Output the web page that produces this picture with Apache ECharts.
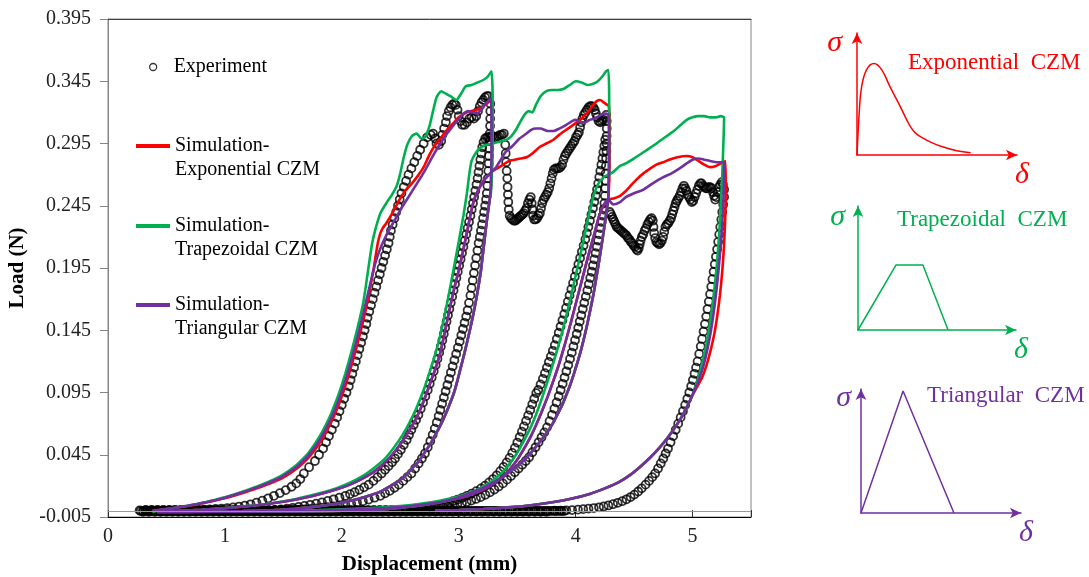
<!DOCTYPE html>
<html><head><meta charset="utf-8">
<script src="https://cdn.jsdelivr.net/npm/echarts@6/dist/echarts.min.js"></script>
<style>html,body{margin:0;padding:0;background:#fff}#c{width:1089px;height:577px}</style>
</head><body><div id="c"></div>
<script>
// ---------- Experiment (open circles) ----------
const expLoad1 = [[0.27,.0003],[0.32,.0003],[0.37,.0003],[0.42,.0003],[0.47,.0004],[0.52,.0004],[0.57,.0005],[0.62,.0005],[0.67,.0006],[0.72,.0007],[0.77,.0008],[0.82,.0010],[0.87,.0012],[0.92,.0015],[0.97,.0018],[1.02,.0022],[1.07,.0027],[1.12,.0034],[1.17,.0042],[1.22,.0052],[1.27,.0065],[1.32,.0081],[1.37,.0100],[1.42,.0120],[1.47,.0142],[1.52,.0166],[1.57,.0193],[1.61,.0220],[1.645,.0255],
[1.675,.030],[1.72,.035],[1.77,.040],[1.805,.045],[1.84,.050],[1.865,.055],[1.89,.060],[1.915,.065],[1.94,.070],[1.96,.075],[1.98,.080],[2.00,.085],[2.02,.090],[2.04,.095],[2.06,.100],[2.075,.105],[2.09,.110],[2.105,.115],[2.12,.120],[2.135,.125],[2.15,.130],[2.165,.135],[2.18,.140],[2.195,.145],[2.21,.150],[2.22,.155],[2.235,.160],[2.25,.165],[2.265,.170],[2.28,.175],[2.295,.180],[2.31,.185],[2.325,.190],[2.34,.195],[2.355,.200],[2.37,.205],[2.385,.210],[2.40,.215],[2.41,.220],[2.42,.225],[2.435,.230],[2.45,.235],[2.465,.240],[2.48,.245],[2.495,.250],[2.51,.255],[2.53,.260],[2.55,.265],[2.57,.270],[2.595,.275],[2.62,.280],[2.645,.285],[2.67,.290],[2.70,.295],[2.73,.300],
[2.76,.302],[2.78,.303],[2.80,.299],[2.81,.295],[2.83,.294],[2.85,.297],[2.86,.302],[2.875,.307],[2.89,.312],[2.90,.317],[2.915,.321],[2.93,.324],[2.945,.326],[2.96,.327],[2.975,.326],[2.99,.322],[3.00,.317],[3.015,.313],[3.03,.310],[3.05,.310],[3.07,.312],[3.09,.315],[3.11,.316],[3.13,.315],[3.15,.317],[3.165,.321],[3.18,.325],[3.195,.328],[3.21,.330],[3.225,.332],[3.24,.333],[3.255,.333]];
const expUnload1 = [[3.27,.327],[3.27,.321],[3.269,.315],[3.268,.309],[3.266,.303],[3.264,.297],[3.262,.291],[3.259,.285],[3.256,.279],[3.253,.273],[3.249,.267],[3.245,.261],[3.24,.255],[3.234,.250],[3.226,.245],[3.217,.240],[3.208,.235],[3.199,.230],[3.19,.225],[3.18,.220],[3.17,.215],[3.16,.209],[3.15,.203],[3.14,.197],[3.13,.191],[3.12,.185],[3.11,.179],[3.10,.173],[3.088,.167],[3.076,.161],[3.064,.156],[3.05,.151],[3.036,.146],[3.022,.141],[3.008,.136],[2.993,.131],[2.978,.126],[2.963,.121],[2.948,.116],[2.933,.111],[2.918,.106],[2.903,.101],[2.888,.096],[2.873,.091],[2.858,.086],[2.843,.081],[2.828,.076],[2.812,.071],[2.795,.066],[2.777,.061],[2.757,.056],[2.735,.051],[2.711,.046],[2.685,.042],[2.657,.038],[2.627,.034],[2.595,.030],[2.56,.027],[2.525,.024],[2.488,.021],[2.45,.0185],[2.41,.016],[2.37,.014],[2.33,.012],[2.28,.0105],[2.23,.009],[2.18,.0077],[2.13,.0066],[2.08,.0057],[2.03,.0049],[1.98,.0042],[1.93,.0036],[1.88,.0030],[1.83,.0025],[1.78,.0020],[1.73,.0016],[1.68,.0012],[1.63,.0009],[1.58,.0006],[1.53,.0004],[1.48,.0002],[1.43,.0001],[1.38,0]];
const expReload1 = [[1.43,.0006],[1.48,.0011],[1.53,.0017],[1.58,.0024],[1.63,.0031],[1.68,.0039],[1.73,.0048],[1.78,.0057],[1.83,.0067],[1.88,.0079],[1.93,.0092],[1.98,.0106],[2.03,.0120],[2.07,.0134],[2.11,.0150],[2.15,.0168],[2.19,.0188],[2.23,.0210],[2.27,.0240],[2.305,.0270],[2.34,.0300],[2.37,.0330],[2.40,.0360],[2.43,.0390],[2.455,.0420],[2.48,.0455],[2.505,.049],[2.53,.053],[2.555,.057],[2.575,.061],[2.595,.065],[2.615,.069],[2.635,.073],[2.655,.077],[2.675,.082],[2.695,.087],[2.715,.092],[2.735,.097],[2.752,.102],[2.769,.107],[2.786,.112],[2.803,.117],[2.818,.122],[2.833,.127],[2.847,.132],[2.86,.137],[2.872,.142],[2.884,.147],[2.896,.152],[2.908,.157],[2.92,.162],[2.932,.167],[2.944,.172],[2.956,.177],[2.968,.182],[2.98,.187],[2.992,.192],[3.004,.197],[3.016,.202],[3.028,.207],[3.04,.212],[3.052,.217],[3.064,.222],[3.076,.227],[3.088,.232],[3.1,.237],[3.111,.242],[3.122,.247],[3.132,.252],[3.142,.257],[3.152,.262],[3.161,.267],[3.169,.272],[3.177,.277],[3.185,.282],[3.193,.287],[3.201,.292],[3.212,.296],[3.226,.299],[3.242,.300],[3.258,.300],[3.274,.301],[3.29,.301],[3.306,.300],[3.322,.300],[3.338,.301],[3.354,.302],[3.37,.302],[3.386,.303]];
const expPlateau2 = [[3.398,.294],[3.402,.287],[3.406,.280],[3.41,.273],[3.415,.267],[3.418,.260],[3.421,.254],[3.424,.248],[3.428,.242],[3.436,.237],[3.448,.235],[3.46,.234],[3.472,.233],[3.484,.233],[3.496,.234],[3.508,.235],[3.52,.236],[3.532,.237],[3.544,.238],[3.556,.239],[3.568,.241],[3.58,.243],[3.592,.247],[3.604,.250],[3.616,.252],[3.624,.247],[3.63,.242],[3.636,.237],[3.646,.234],[3.658,.234],[3.67,.235],[3.682,.237],[3.694,.239],[3.704,.243],[3.714,.247],[3.726,.250],[3.738,.252],[3.75,.254],[3.762,.256],[3.774,.259],[3.784,.263],[3.794,.267],[3.804,.271],[3.814,.274],[3.828,.275],[3.842,.275],[3.856,.275],[3.87,.276],[3.884,.278],[3.896,.282],[3.908,.285],[3.92,.287],[3.934,.289],[3.948,.291],[3.962,.293],[3.976,.295],[3.99,.297],[4.003,.300],[4.016,.302],[4.028,.304],[4.038,.308],[4.048,.312],[4.058,.315],[4.07,.318],[4.083,.320],[4.096,.322],[4.11,.324],[4.124,.325],[4.138,.325],[4.152,.324],[4.164,.322],[4.174,.319],[4.184,.316],[4.196,.313],[4.21,.312],[4.224,.313],[4.238,.314],[4.25,.316],[4.262,.318]];
const expUnload2 = [[4.266,.313],[4.266,.307],[4.265,.301],[4.264,.295],[4.263,.289],[4.261,.283],[4.259,.277],[4.257,.271],[4.255,.265],[4.253,.259],[4.25,.253],[4.246,.247],[4.24,.242],[4.232,.237],[4.222,.232],[4.212,.227],[4.202,.222],[4.192,.217],[4.181,.212],[4.17,.207],[4.159,.202],[4.148,.197],[4.137,.192],[4.125,.187],[4.113,.182],[4.1,.177],[4.087,.172],[4.074,.167],[4.061,.162],[4.048,.157],[4.035,.152],[4.022,.147],[4.009,.142],[3.995,.137],[3.981,.132],[3.967,.127],[3.952,.122],[3.937,.117],[3.921,.112],[3.905,.107],[3.889,.102],[3.872,.097],[3.855,.092],[3.837,.087],[3.818,.082],[3.798,.077],[3.777,.072],[3.755,.067],[3.732,.063],[3.708,.059],[3.683,.055],[3.657,.051],[3.63,.047],[3.602,.043],[3.573,.040],[3.543,.037],[3.512,.034],[3.48,.031],[3.447,.028],[3.413,.025],[3.378,.022],[3.342,.0195],[3.305,.017],[3.267,.0148],[3.228,.0128],[3.188,.011],[3.148,.0095],[3.108,.0082],[3.068,.007],[3.028,.006],[2.988,.0051],[2.948,.0043],[2.908,.0036],[2.868,.003],[2.828,.0025],[2.788,.002],[2.748,.0016],[2.708,.0012],[2.668,.0009],[2.628,.0006],[2.588,.0004],[2.548,.0002]];
const expReload2 = [[2.55,.0008],[2.59,.0012],[2.63,.0017],[2.67,.0022],[2.71,.0028],[2.75,.0034],[2.79,.0041],[2.83,.0048],[2.87,.0057],[2.91,.0066],[2.95,.0077],[2.99,.0090],[3.03,.0104],[3.07,.0120],[3.11,.0138],[3.15,.0158],[3.19,.0180],[3.225,.0202],[3.26,.0228],[3.293,.0255],[3.325,.0285],[3.355,.0318],[3.383,.0352],[3.41,.0388],[3.435,.0425],[3.458,.0465],[3.48,.0505],[3.501,.0548],[3.521,.0592],[3.54,.0635],[3.558,.0678],[3.576,.0722],[3.594,.0766],[3.612,.081],[3.629,.0855],[3.646,.09],[3.663,.0945],[3.68,.097],[3.70,.1015],[3.72,.106],[3.737,.1105],[3.754,.115],[3.771,.1195],[3.788,.124],[3.805,.1285],[3.822,.133],[3.839,.138],[3.855,.143],[3.871,.148],[3.887,.153],[3.903,.158],[3.918,.163],[3.933,.168],[3.948,.173],[3.963,.178],[3.978,.183],[3.993,.188],[4.008,.193],[4.023,.198],[4.038,.203],[4.053,.208],[4.068,.213],[4.083,.218],[4.096,.223],[4.109,.228],[4.122,.233],[4.135,.238],[4.148,.243],[4.16,.248],[4.172,.253],[4.183,.258],[4.193,.263],[4.202,.268],[4.211,.273],[4.22,.278],[4.229,.283],[4.237,.288],[4.245,.293],[4.253,.298]];
const expPlateau3 = [[4.292,.240],[4.302,.238],[4.312,.236],[4.322,.234],[4.332,.232],[4.342,.230],[4.352,.228],[4.364,.227],[4.376,.226],[4.388,.225],[4.40,.224],[4.412,.223],[4.424,.222],[4.436,.221],[4.448,.219],[4.46,.218],[4.472,.216],[4.484,.215],[4.496,.213],[4.508,.212],[4.52,.210],[4.53,.209],[4.54,.211],[4.548,.214],[4.556,.217],[4.566,.220],[4.578,.222],[4.59,.225],[4.602,.227],[4.614,.230],[4.626,.232],[4.638,.234],[4.65,.235],[4.66,.233],[4.666,.228],[4.672,.223],[4.68,.219],[4.69,.216],[4.702,.215],[4.714,.214],[4.726,.215],[4.738,.217],[4.748,.220],[4.758,.224],[4.768,.228],[4.78,.230],[4.792,.231],[4.804,.233],[4.816,.235],[4.826,.238],[4.836,.241],[4.846,.244],[4.856,.247],[4.866,.249],[4.878,.251],[4.89,.253],[4.902,.256],[4.914,.259],[4.926,.261],[4.938,.259],[4.948,.257],[4.958,.254],[4.97,.252],[4.982,.250],[4.994,.248],[5.006,.249],[5.018,.252],[5.03,.255],[5.042,.258],[5.054,.261],[5.066,.263],[5.078,.263],[5.09,.261],[5.102,.260],[5.114,.259],[5.126,.259],[5.138,.260],[5.15,.260],[5.162,.259],[5.174,.256],[5.184,.253],[5.194,.250],[5.204,.252],[5.214,.256],[5.226,.260],[5.238,.262],[5.25,.264],[5.26,.262],[5.27,.258]];
const expUnload3 = [[5.27,.252],[5.262,.246],[5.254,.240],[5.246,.234],[5.237,.228],[5.228,.222],[5.219,.216],[5.21,.210],[5.2,.204],[5.19,.198],[5.18,.192],[5.17,.186],[5.16,.180],[5.15,.174],[5.139,.168],[5.128,.162],[5.117,.156],[5.106,.150],[5.094,.144],[5.082,.138],[5.07,.132],[5.057,.126],[5.043,.120],[5.03,.115],[5.017,.110],[5.003,.105],[4.988,.100],[4.972,.095],[4.955,.090],[4.937,.085],[4.918,.080],[4.898,.075],[4.877,.070],[4.856,.065],[4.834,.060],[4.812,.055],[4.79,.050],[4.77,.046],[4.75,.042],[4.728,.038],[4.705,.034],[4.68,.030],[4.655,.027],[4.628,.024],[4.598,.021],[4.565,.018],[4.535,.0155],[4.502,.013],[4.47,.011],[4.435,.0092],[4.398,.0077],[4.36,.0064],[4.32,.0053],[4.28,.0043],[4.24,.0035],[4.2,.0028],[4.155,.0022],[4.11,.0017],[4.065,.0013],[4.02,.0009],[3.97,.0006],[3.92,.0004],[3.87,.0002],[3.82,.0001]];
const expBaseA = [[0.30,-.0008],[0.35,-.0008],[0.40,-.0009],[0.45,-.0008],[0.50,-.0008],[0.55,-.0009],[0.60,-.0008],[0.65,-.0008],[0.70,-.0009],[0.75,-.0008],[0.80,-.0008],[0.85,-.0009],[0.90,-.0008],[0.95,-.0008],[1.00,-.0009],[1.05,-.0008],[1.10,-.0008],[1.15,-.0009],[1.20,-.0008],[1.25,-.0008],[1.30,-.0009],[1.35,-.0008],[1.40,-.0008],[1.45,-.0009],[1.50,-.0008],[1.55,-.0008],[1.60,-.0009],[1.65,-.0008],[1.70,-.0008],[1.75,-.0009],[1.80,-.0008],[1.85,-.0008],[1.90,-.0009],[1.95,-.0008],[2.00,-.0008],[2.05,-.0009],[2.10,-.0008],[2.15,-.0008],[2.20,-.0009],[2.25,-.0008],[2.30,-.0008],[2.35,-.0009],[2.40,-.0008],[2.45,-.0008],[2.50,-.0009],[2.55,-.0008],[2.60,-.0008],[2.65,-.0009],[2.70,-.0008],[2.75,-.0008],[2.80,-.0009],[2.85,-.0008],[2.90,-.0008],[2.95,-.0009],[3.00,-.0008],[3.05,-.0008],[3.10,-.0009],[3.15,-.0008],[3.20,-.0008],[3.25,-.0009],[3.30,-.0008],[3.35,-.0008],[3.40,-.0009],[3.45,-.0008],[3.50,-.0008],[3.55,-.0009],[3.60,-.0008],[3.65,-.0008],[3.70,-.0009],[3.75,-.0008]];
const expBaseB = [[0.325,.0007],[0.375,.0007],[0.425,.0008],[0.475,.0007],[0.525,.0007],[0.575,.0008],[0.625,.0007],[0.675,.0007],[0.725,.0008],[0.775,.0007],[0.825,.0007],[0.875,.0008],[0.925,.0007],[0.975,.0007],[1.025,.0008],[1.075,.0007],[1.125,.0007],[1.175,.0008],[1.225,.0007],[1.275,.0007],[1.325,.0008],[1.375,.0007],[1.425,.0007],[1.475,.0008],[1.525,.0007],[1.575,.0007],[1.625,.0008],[1.675,.0007],[1.725,.0007],[1.775,.0008],[1.825,.0007],[1.875,.0007],[1.925,.0008],[1.975,.0007],[2.025,.0007],[2.075,.0008],[2.125,.0007],[2.175,.0007],[2.225,.0008],[2.275,.0007],[2.325,.0007],[2.375,.0008],[2.425,.0007],[2.475,.0007]];
const expBaseC = [[0.28,-.0002],[0.30,-.0002],[0.32,-.0001],[0.34,-.0002],[0.36,-.0002],[0.38,-.0001],[0.40,-.0002],[0.42,-.0002],[0.44,-.0001],[0.46,-.0002],[0.48,-.0002],[0.50,-.0001],[0.52,-.0002],[0.54,-.0002],[0.56,-.0001],[0.58,-.0002],[0.60,-.0002],[0.62,-.0001],[0.64,-.0002],[0.66,-.0002],[0.68,-.0001],[0.70,-.0002],[0.72,-.0002],[0.74,-.0001],[0.76,-.0002],[0.78,-.0002],[0.80,-.0001],[0.82,-.0002],[0.84,-.0002],[0.86,-.0001],[0.88,-.0002],[0.90,-.0002],[0.92,-.0001],[0.94,-.0002],[0.96,-.0002],[0.98,-.0001],[1.00,-.0002],[1.02,-.0002],[1.04,-.0001],[1.06,-.0002],[1.08,-.0002],[1.10,-.0001],[1.12,-.0002],[1.14,-.0002],[1.16,-.0001],[1.18,-.0002],[1.20,-.0002],[1.22,-.0001],[1.24,-.0002],[1.26,-.0002],[1.28,-.0001],[1.30,-.0002],[1.32,-.0002],[1.34,-.0001],[1.36,-.0002],[1.38,-.0002],[1.40,-.0001],[1.42,-.0002],[1.44,-.0002],[1.46,-.0001],[1.48,-.0002],[1.50,-.0002],[1.52,-.0001],[1.54,-.0002],[1.56,-.0002],[1.58,-.0001],[1.60,-.0002],[1.62,-.0002],[1.64,-.0001],[1.66,-.0002],[1.68,-.0002],[1.70,-.0001],[1.72,-.0002],[1.74,-.0002],[1.76,-.0001],[1.78,-.0002],[1.80,-.0002],[1.82,-.0001],[1.84,-.0002],[1.86,-.0002],[1.88,-.0001],[1.90,-.0002],[1.92,-.0002],[1.94,-.0001],[1.96,-.0002],[1.98,-.0002],[2.00,-.0001],[2.02,-.0002],[2.04,-.0002],[2.06,-.0001],[2.08,-.0002],[2.10,-.0002],[2.12,-.0001],[2.14,-.0002],[2.16,-.0002],[2.18,-.0001],[2.20,-.0002],[2.22,-.0002],[2.24,-.0001],[2.26,-.0002],[2.28,-.0002],[2.30,-.0001],[2.32,-.0002],[2.34,-.0002],[2.36,-.0001],[2.38,-.0002],[2.40,-.0002],[2.42,-.0001],[2.44,-.0002],[2.46,-.0002],[2.48,-.0001],[2.50,-.0002],[2.52,-.0002],[2.54,-.0001],[2.56,-.0002],[2.58,-.0002],[2.60,-.0001],[2.62,-.0002],[2.64,-.0002],[2.66,-.0001],[2.68,-.0002],[2.70,-.0002],[2.72,-.0001],[2.74,-.0002],[2.76,-.0002],[2.78,-.0001],[2.80,-.0002],[2.82,-.0002],[2.84,-.0001],[2.86,-.0002],[2.88,-.0002],[2.90,-.0001],[2.92,-.0002],[2.94,-.0002],[2.96,-.0001],[2.98,-.0002],[3.00,-.0002],[3.02,-.0001],[3.04,-.0002],[3.06,-.0002],[3.08,-.0001],[3.10,-.0002],[3.12,-.0002],[3.14,-.0001],[3.16,-.0002],[3.18,-.0002],[3.20,-.0001],[3.22,-.0002],[3.24,-.0002],[3.26,-.0001],[3.28,-.0002],[3.30,-.0002],[3.32,-.0001],[3.34,-.0002],[3.36,-.0002],[3.38,-.0001],[3.40,-.0002],[3.42,-.0002],[3.44,-.0001],[3.46,-.0002],[3.48,-.0002],[3.50,-.0001],[3.52,-.0002],[3.54,-.0002],[3.56,-.0001],[3.58,-.0002],[3.60,-.0002],[3.62,-.0001],[3.64,-.0002],[3.66,-.0002],[3.68,-.0001],[3.70,-.0002],[3.72,-.0002],[3.74,-.0001],[3.76,-.0002],[3.78,-.0002],[3.80,-.0001],[3.82,-.0002],[3.84,-.0002],[3.86,-.0001],[3.88,-.0002],[3.90,-.0002]];

// ---------- Simulations (lines) ----------
const simExpLoad1 = [[0.38,.0000],[0.45,.0007],[0.52,.0015],[0.6,.0026],[0.68,.0038],[0.76,.0051],[0.84,.0066],[0.92,.0083],[1.0,.0101],[1.07,.0119],[1.14,.0139],[1.21,.0160],[1.28,.0182],[1.35,.0206],[1.42,.0233],[1.49,.0263],[1.55,.0297],[1.61,.0335],[1.66,.0375],[1.71,.0420],[1.75,.0466],[1.79,.0517],[1.83,.0574],[1.87,.0639],[1.91,.0713],[1.94,.0776],[1.97,.0843],[2.00,.0920],[2.03,.1002],[2.06,.1093],[2.09,.1190],[2.12,.1292],[2.15,.1400],[2.18,.1515],[2.21,.1640],[2.24,.1780],[2.27,.1930],[2.29,.2050],[2.31,.2160],[2.33,.2230],[2.35,.2270],[2.38,.2310],[2.42,.2370],[2.46,.2440],[2.50,.2510],[2.55,.2580],[2.60,.2630],[2.65,.2690],[2.70,.2760],[2.75,.2860],[2.80,.2940],[2.85,.3000],[2.90,.3060],[2.95,.3110],[3.00,.3160],[3.05,.3190],[3.10,.3210],[3.15,.3220],[3.20,.3240],[3.24,.3270],[3.28,.3300],[3.285,.310],[3.285,.285],[3.28,.265],[3.272,.255]];
const simTrapLoad1 = [[0.38,-.0010],[0.45,.0006],[0.52,.0016],[0.6,.0028],[0.68,.0041],[0.76,.0055],[0.84,.0071],[0.92,.0089],[1.0,.0108],[1.07,.0128],[1.14,.0150],[1.21,.0173],[1.28,.0197],[1.35,.0223],[1.42,.0252],[1.49,.0286],[1.55,.0323],[1.61,.0365],[1.66,.0410],[1.71,.0460],[1.75,.0510],[1.79,.0567],[1.83,.0630],[1.87,.0702],[1.91,.0784],[1.94,.0853],[1.97,.0928],[2.00,.1012],[2.03,.1102],[2.06,.1200],[2.09,.1305],[2.12,.1415],[2.15,.1530],[2.18,.1655],[2.20,.1770],[2.22,.1900],[2.24,.2030],[2.26,.2150],[2.29,.2270],[2.33,.2390],[2.38,.2470],[2.43,.2540],[2.47,.2610],[2.50,.2710],[2.53,.2840],[2.56,.2940],[2.60,.3010],[2.64,.3030],[2.68,.2990],[2.71,.3000],[2.75,.3090],[2.78,.3210],[2.81,.3320],[2.85,.3370],[2.89,.3350],[2.93,.3330],[2.98,.3300],[3.02,.3350],[3.06,.3410],[3.11,.3420],[3.16,.3440],[3.21,.3460],[3.25,.3490],[3.28,.3530],[3.29,.330],[3.29,.300],[3.285,.275],[3.275,.255]];
const simTriLoad1 = [[0.38,.0000],[0.45,.0008],[0.52,.0017],[0.6,.0028],[0.68,.0040],[0.76,.0054],[0.84,.0069],[0.92,.0086],[1.0,.0105],[1.07,.0124],[1.14,.0145],[1.21,.0167],[1.28,.0190],[1.35,.0215],[1.42,.0243],[1.49,.0275],[1.55,.0310],[1.61,.0350],[1.66,.0392],[1.71,.0440],[1.75,.0487],[1.79,.0540],[1.83,.0600],[1.87,.0668],[1.91,.0745],[1.94,.0810],[1.97,.0880],[2.00,.0960],[2.03,.1045],[2.06,.1140],[2.09,.1240],[2.12,.1345],[2.15,.1455],[2.18,.1570],[2.21,.1690],[2.24,.1810],[2.27,.1930],[2.30,.2030],[2.34,.2130],[2.39,.2230],[2.45,.2330],[2.51,.2430],[2.57,.2520],[2.63,.2610],[2.69,.2700],[2.75,.2800],[2.80,.2885],[2.85,.2960],[2.90,.3030],[2.95,.3090],[3.00,.3150],[3.04,.3190],[3.08,.3210],[3.12,.3200],[3.16,.3190],[3.19,.3220],[3.22,.3260],[3.25,.3290],[3.275,.3310],[3.28,.310],[3.28,.285],[3.275,.265],[3.27,.255]];
const simUnload1 = [[3.265,.250],[3.25,.240],[3.235,.229],[3.22,.217],[3.205,.205],[3.19,.193],[3.17,.181],[3.15,.170],[3.125,.158],[3.10,.147],[3.075,.137],[3.05,.127],[3.02,.116],[2.99,.105],[2.96,.095],[2.92,.085],[2.88,.076],[2.84,.068],[2.80,.061],[2.76,.054],[2.71,.047],[2.66,.040],[2.60,.034],[2.54,.028],[2.47,.023],[2.40,.019],[2.32,.015],[2.23,.012],[2.14,.0095],[2.04,.0073],[1.94,.0055],[1.83,.0040],[1.72,.0027],[1.60,.0016],[1.47,.0008],[1.33,.0002],[1.15,-.0003],[0.95,-.0006],[0.7,-.0008],[0.42,-.0010]];
const simReload1 = [[0.42,-.0005],[0.8,.0008],[1.1,.0028],[1.35,.0052],[1.6,.0088],[1.8,.013],[1.95,.017],[2.07,.021],[2.18,.026],[2.27,.031],[2.36,.038],[2.44,.046],[2.52,.056],[2.58,.065],[2.64,.075],[2.70,.088],[2.75,.101],[2.80,.114],[2.84,.126],[2.88,.143],[2.92,.161],[2.96,.178],[3.00,.193],[3.04,.210],[3.08,.228],[3.11,.242],[3.14,.252],[3.18,.260],[3.22,.266],[3.26,.270],[3.29,.273]];
const simTrapReload1 = [[0.42,-.001],[0.8,.0008],[1.1,.003],[1.35,.0055],[1.6,.0093],[1.8,.0138],[1.95,.018],[2.07,.0225],[2.18,.028],[2.27,.034],[2.36,.041],[2.44,.050],[2.52,.061],[2.58,.071],[2.64,.083],[2.70,.097],[2.75,.111],[2.80,.126],[2.84,.140],[2.88,.157],[2.92,.176],[2.96,.196],[3.00,.216],[3.04,.237],[3.07,.255],[3.09,.270],[3.11,.281],[3.15,.288],[3.19,.292],[3.24,.294],[3.29,.295]];
const simExpPlateau2 = [[3.33,.275],[3.38,.278],[3.43,.281],[3.48,.282],[3.53,.283],[3.58,.284],[3.63,.287],[3.69,.292],[3.75,.295],[3.81,.298],[3.86,.302],[3.92,.306],[3.98,.310],[4.04,.314],[4.08,.318],[4.12,.322],[4.15,.326],[4.18,.329],[4.21,.330],[4.24,.328],[4.27,.326],[4.285,.325],[4.29,.30],[4.29,.28],[4.287,.265]];
const simTrapPlateau2 = [[3.33,.296],[3.37,.297],[3.41,.298],[3.45,.301],[3.49,.306],[3.53,.313],[3.57,.319],[3.60,.321],[3.63,.320],[3.66,.326],[3.70,.333],[3.75,.337],[3.80,.338],[3.85,.338],[3.90,.339],[3.95,.342],[4.00,.345],[4.05,.344],[4.10,.342],[4.15,.343],[4.19,.345],[4.23,.349],[4.26,.353],[4.28,.354],[4.287,.33],[4.287,.30],[4.285,.275],[4.282,.26]];
const simTriPlateau2 = [[3.32,.276],[3.36,.282],[3.40,.288],[3.46,.293],[3.52,.299],[3.58,.303],[3.62,.306],[3.66,.307],[3.70,.307],[3.76,.305],[3.81,.305],[3.86,.307],[3.92,.310],[3.97,.313],[4.00,.314],[4.04,.312],[4.08,.312],[4.12,.314],[4.16,.315],[4.20,.317],[4.24,.319],[4.28,.318],[4.285,.30],[4.285,.28],[4.283,.265]];
const simUnload2 = [[4.28,.252],[4.268,.243],[4.253,.233],[4.236,.222],[4.218,.211],[4.2,.200],[4.18,.189],[4.16,.178],[4.14,.168],[4.118,.158],[4.095,.148],[4.07,.138],[4.043,.128],[4.015,.119],[3.985,.110],[3.953,.101],[3.92,.093],[3.885,.085],[3.848,.078],[3.81,.071],[3.77,.065],[3.725,.059],[3.675,.053],[3.62,.047],[3.56,.041],[3.50,.036],[3.43,.031],[3.36,.026],[3.28,.022],[3.2,.018],[3.12,.015],[3.04,.012],[2.96,.0095],[2.86,.0072],[2.74,.0052],[2.6,.0034],[2.45,.0019],[2.28,.0009],[2.08,.0002],[1.8,-.0003],[1.4,-.0006],[0.9,-.0008],[0.42,-.0010]];
const simReload2 = [[0.42,-.0010],[1.2,-.0006],[1.8,.0002],[2.2,.0014],[2.5,.0030],[2.7,.0050],[2.86,.0073],[3.0,.0100],[3.12,.0135],[3.24,.0185],[3.34,.0245],[3.42,.0315],[3.49,.0395],[3.55,.0485],[3.61,.0585],[3.66,.0685],[3.71,.0795],[3.76,.0915],[3.81,.1045],[3.86,.1185],[3.91,.1345],[3.96,.1515],[4.01,.1695],[4.06,.1875],[4.11,.2055],[4.16,.2225],[4.20,.2365],[4.24,.2455],[4.28,.2500]];
const simTrapReload2 = [[0.42,-.001],[1.2,-.0005],[1.8,.0006],[2.2,.002],[2.5,.0038],[2.7,.006],[2.86,.0085],[3.0,.0115],[3.12,.0155],[3.24,.021],[3.34,.028],[3.42,.036],[3.49,.045],[3.55,.055],[3.61,.066],[3.66,.077],[3.71,.090],[3.76,.104],[3.81,.119],[3.86,.135],[3.91,.153],[3.96,.172],[4.01,.193],[4.06,.214],[4.11,.236],[4.15,.252],[4.19,.262],[4.24,.268],[4.28,.270]];
const simExpPlateau3 = [[4.33,.251],[4.38,.253],[4.42,.256],[4.46,.260],[4.52,.266],[4.58,.271],[4.64,.275],[4.69,.278],[4.75,.280],[4.80,.282],[4.87,.284],[4.95,.285],[5.00,.284],[5.05,.281],[5.10,.278],[5.15,.276],[5.20,.277],[5.24,.279],[5.28,.281],[5.284,.262],[5.282,.244],[5.276,.226],[5.266,.208],[5.252,.19],[5.234,.173],[5.212,.157],[5.186,.142],[5.155,.129],[5.12,.117],[5.082,.107],[5.042,.1]];
const simTrapPlateau3 = [[4.32,.272],[4.38,.277],[4.43,.279],[4.50,.283],[4.58,.288],[4.66,.293],[4.72,.297],[4.78,.301],[4.84,.305],[4.90,.310],[4.95,.314],[5.00,.316],[5.05,.317],[5.10,.317],[5.15,.316],[5.20,.316],[5.24,.317],[5.27,.316],[5.262,.29],[5.252,.265],[5.24,.242],[5.226,.22],[5.21,.2],[5.19,.181],[5.168,.163],[5.143,.147],[5.115,.132],[5.085,.119],[5.053,.108],[5.025,.1]];
const simTriPlateau3 = [[4.32,.246],[4.38,.248],[4.43,.252],[4.50,.255],[4.58,.258],[4.66,.263],[4.75,.268],[4.82,.271],[4.89,.275],[4.95,.279],[5.00,.282],[5.05,.283],[5.10,.282],[5.15,.281],[5.21,.280],[5.27,.280],[5.268,.262],[5.262,.245],[5.252,.228],[5.238,.21],[5.222,.193],[5.203,.176],[5.182,.16],[5.158,.145],[5.13,.131],[5.098,.118],[5.065,.108],[5.032,.1]];
const simUnload3Tail = [[5.0,.093],[4.955,.084],[4.905,.075],[4.85,.067],[4.79,.059],[4.72,.051],[4.64,.043],[4.56,.036],[4.47,.029],[4.37,.023],[4.25,.018],[4.12,.0135],[3.97,.0098],[3.8,.0068],[3.62,.0045],[3.42,.0027],[3.21,.0014],[3.0,.0006],[2.8,.0001]];

// ---------- Cohesive-law sketches (δ, σ in arbitrary units) ----------
const czmExponential = [[0,0],[0.15,3.7],[0.29,5.6],[0.6,7.0],[1.06,7.5],[1.54,7.0],[2.06,5.6],[2.69,4.0],[3.1,2.9],[3.4,2.2],[3.7,1.75],[4.1,1.4],[4.6,1.05],[5.19,0.74],[6.23,0.35],[7.1,0.19]];
const czmTrapezoidal = [[0,0],[2.4,5.24],[4.11,5.24],[5.7,0]];
const czmTriangular = [[0,0],[2.63,9.84],[5.81,0]];

// ---------- axis ticks ----------
const xTickMin = 0, xTickMax = 5.5, xTickStep = 1;
const yTickMin = -0.005, yTickMax = 0.395, yTickStep = 0.05;

const seriesNames = ['Experiment','Simulation-Exponential CZM','Simulation-Trapezoidal CZM','Simulation-Triangular CZM'];
const RED = '#FF0000', GREEN = '#00B050', PURPLE = '#7030A0';
const F = 'Liberation Serif, "Times New Roman", serif';

const expData = [].concat(expBaseC, expBaseA, expBaseB, expLoad1, expUnload1, expReload1, expPlateau2, expUnload2, expReload2, expPlateau3, expUnload3);
const simExpPath = [].concat(simExpLoad1, simUnload1, simReload1, simExpPlateau2, simUnload2, simReload2, simExpPlateau3, simUnload3Tail);
const simTrapPath = [].concat(simTrapLoad1, simUnload1, simTrapReload1, simTrapPlateau2, simUnload2, simTrapReload2, simTrapPlateau3, simUnload3Tail);
const simTriPath = [].concat(simTriLoad1, simUnload1, simReload1, simTriPlateau2, simUnload2, simReload2, simTriPlateau3, simUnload3Tail);

function diagX(gi, color) {
  return { type:'value', gridIndex:gi, min:0, max:10,
    axisLine:{show:true, onZero:false, symbol:['none','arrow'], symbolSize:[8,11], lineStyle:{color:color, width:1.5}},
    axisTick:{show:false}, axisLabel:{show:false}, splitLine:{show:false},
    name:'δ', nameLocation:'end', nameGap:5,
    nameTextStyle:{fontFamily:F, fontStyle:'italic', fontSize:30, color:color, align:'center', verticalAlign:'top', lineHeight:41} };
}
function diagY(gi, color, gap, padRight) {
  return { type:'value', gridIndex:gi, min:0, max:10,
    axisLine:{show:true, onZero:false, symbol:['none','arrow'], symbolSize:[8,11], lineStyle:{color:color, width:1.5}},
    axisTick:{show:false}, axisLabel:{show:false}, splitLine:{show:false},
    name:'σ', nameLocation:'end', nameGap:gap,
    nameTextStyle:{fontFamily:F, fontStyle:'italic', fontSize:30, color:color, align:'right', verticalAlign:'middle', lineHeight:30, padding:[0,padRight,0,0]} };
}
const legendText = {fontFamily:F, fontSize:20, color:'#000', lineHeight:24};
function simLegend(name, top) {
  return { data:[name], left:136, top:top, padding:0, itemWidth:34, itemHeight:4, icon:'rect', selectedMode:false,
    formatter: n => n.replace('Simulation-', '\nSimulation-\n'),
    textStyle:legendText };
}

const chart = echarts.init(document.getElementById('c'));
chart.setOption({
  animation:false,
  backgroundColor:'#fff',
  title:[
    {text:'Exponential  CZM', left:908, top:51, padding:0, textStyle:{fontFamily:F, fontSize:23, fontWeight:'normal', color:RED}},
    {text:'Trapezoidal  CZM', left:897, top:208, padding:0, textStyle:{fontFamily:F, fontSize:23, fontWeight:'normal', color:GREEN}},
    {text:'Triangular  CZM', left:927, top:384, padding:0, textStyle:{fontFamily:F, fontSize:23, fontWeight:'normal', color:PURPLE}}
  ],
  legend:[
    { data:[seriesNames[0]], left:149, top:55, padding:0, itemWidth:7, itemHeight:7, icon:'circle', selectedMode:false,
      itemStyle:{color:'#fff', borderColor:'#000', borderWidth:1.3},
      textStyle:Object.assign({}, legendText, {padding:[0,0,0,12]}) },
    simLegend(seriesNames[1], 110),
    simLegend(seriesNames[2], 190),
    simLegend(seriesNames[3], 269)
  ],
  grid:[
    {left:108, top:19, width:643, height:498, show:true, borderColor:'#868686', borderWidth:1, outerBoundsMode:'none', containLabel:false},
    {left:857, top:33, width:160, height:122, outerBoundsMode:'none'},
    {left:858, top:206, width:158, height:124, outerBoundsMode:'none'},
    {left:861, top:389, width:160, height:124, outerBoundsMode:'none'}
  ],
  xAxis:[
    { type:'value', gridIndex:0, min:xTickMin, max:xTickMax, interval:xTickStep,
      axisLine:{show:true, onZero:false, lineStyle:{color:'#000', width:1}},
      axisTick:{show:true, inside:true, length:7, lineStyle:{color:'#333'}},
      axisLabel:{margin:10, fontFamily:F, fontSize:20, color:'#222', formatter: v => (Math.abs(v - Math.round(v)) < 1e-9 ? String(Math.round(v)) : '')},
      splitLine:{show:false},
      name:'Displacement (mm)', nameLocation:'middle', nameGap:37,
      nameTextStyle:{fontFamily:F, fontSize:21, fontWeight:'bold', color:'#000'} },
    { type:'value', gridIndex:0, position:'top', min:xTickMin, max:xTickMax,
      axisLine:{show:true, onZero:false, lineStyle:{color:'#404040', width:1}},
      axisTick:{show:false}, axisLabel:{show:false}, splitLine:{show:false} },
    diagX(1, RED), diagX(2, GREEN), diagX(3, PURPLE)
  ],
  yAxis:[
    { type:'value', gridIndex:0, min:yTickMin, max:yTickMax, interval:yTickStep,
      axisLine:{show:true, onZero:false, lineStyle:{color:'#868686', width:1}},
      axisTick:{show:true, length:8, lineStyle:{color:'#868686'}},
      axisLabel:{margin:17, fontFamily:F, fontSize:20, color:'#222', formatter: v => v.toFixed(3)},
      splitLine:{show:false},
      name:'Load (N)', nameLocation:'middle', nameGap:76,
      nameTextStyle:{fontFamily:F, fontSize:21, fontWeight:'bold', color:'#000'} },
    diagY(1, RED, -10, 15), diagY(2, GREEN, -11, 13), diagY(3, PURPLE, -9, 10)
  ],
  series:[
    { name:seriesNames[0], type:'scatter', xAxisIndex:0, yAxisIndex:0, data:expData,
      symbol:'circle', symbolSize:8,
      itemStyle:{color:'rgba(255,255,255,0)', borderColor:'#000', borderWidth:1.8},
      markLine:{silent:true, symbol:'none', label:{show:false}, lineStyle:{color:'#999', width:1, type:'solid'}, data:[{yAxis:0}]},
      z:2 },
    { name:seriesNames[1], type:'line', xAxisIndex:0, yAxisIndex:0, data:simExpPath, symbol:'none', smooth:0.2,
      lineStyle:{color:RED, width:2.6}, itemStyle:{color:RED}, z:3 },
    { name:seriesNames[2], type:'line', xAxisIndex:0, yAxisIndex:0, data:simTrapPath, symbol:'none', smooth:0.2,
      lineStyle:{color:GREEN, width:2.6}, itemStyle:{color:GREEN}, z:3 },
    { name:seriesNames[3], type:'line', xAxisIndex:0, yAxisIndex:0, data:simTriPath, symbol:'none', smooth:0.2,
      lineStyle:{color:PURPLE, width:2.6}, itemStyle:{color:PURPLE}, z:3 },
    { type:'line', xAxisIndex:2, yAxisIndex:1, data:czmExponential, symbol:'none', smooth:0.4, lineStyle:{color:RED, width:1.5}, itemStyle:{color:RED} },
    { type:'line', xAxisIndex:3, yAxisIndex:2, data:czmTrapezoidal, symbol:'none', lineStyle:{color:GREEN, width:1.5}, itemStyle:{color:GREEN} },
    { type:'line', xAxisIndex:4, yAxisIndex:3, data:czmTriangular, symbol:'none', lineStyle:{color:PURPLE, width:1.5}, itemStyle:{color:PURPLE} }
  ]
});
</script>
</body></html>
